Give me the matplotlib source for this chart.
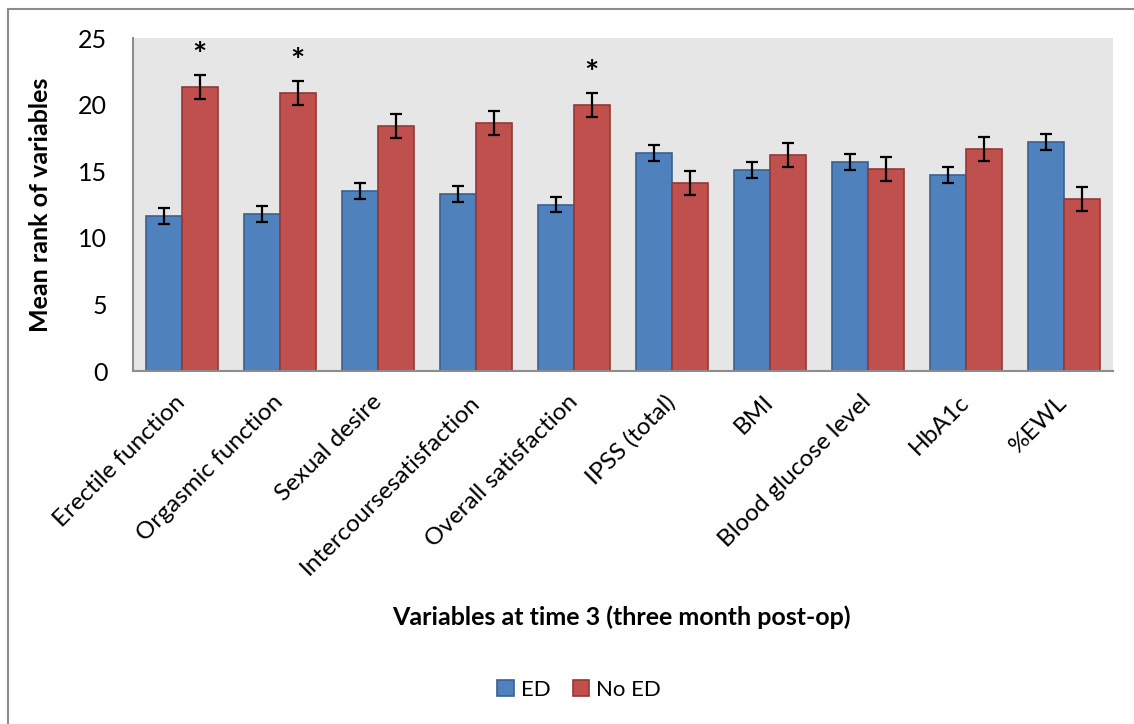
import matplotlib
matplotlib.use("Agg")
import matplotlib.pyplot as plt
import numpy as np
from matplotlib.patches import Rectangle

plt.rcParams['font.family'] = ['Lato', 'DejaVu Sans']

categories = ["Erectile function", "Orgasmic function", "Sexual desire",
              "Intercoursesatisfaction", "Overall satisfaction", "IPSS (total)",
              "BMI", "Blood glucose level", "HbA1c", "%EWL"]
ed_values = [11.6, 11.8, 13.5, 13.3, 12.5, 16.4, 15.1, 15.7, 14.7, 17.2]
no_ed_values = [21.3, 20.9, 18.4, 18.6, 20.0, 14.1, 16.2, 15.2, 16.7, 12.9]
ed_err = [0.6, 0.6, 0.6, 0.6, 0.6, 0.6, 0.6, 0.6, 0.6, 0.6]
no_ed_err = [0.9, 0.9, 0.9, 0.9, 0.9, 0.9, 0.9, 0.9, 0.9, 0.9]
significant = [True, True, False, False, True, False, False, False, False, False]
y_ticks = [0, 5, 10, 15, 20, 25]

W, H = 1134, 724
fig = plt.figure(figsize=(W / 100, H / 100), dpi=100)
fig.patch.set_facecolor('white')

# outer chart frame
fig.patches.append(Rectangle((7.5 / W, -0.1), 2.0, (H - 8.5) / H + 0.1,
                             transform=fig.transFigure, fill=False,
                             edgecolor='#8C8C8C', linewidth=1.5))

left, right, top, bottom = 133, 1113, 38, 371
ax = fig.add_axes([left / W, 1 - bottom / H, (right - left) / W, (bottom - top) / H])
ax.set_facecolor('#E6E6E6')

x = np.arange(len(categories))
bw = 0.365
err_kw = dict(ecolor='black', elinewidth=1.6, capsize=4.2, capthick=1.6)
ax.bar(x - bw / 2, ed_values, bw, yerr=ed_err, color='#4F81BD',
       edgecolor='#3A6190', linewidth=1.2, label='ED', error_kw=err_kw, zorder=2)
ax.bar(x + bw / 2, no_ed_values, bw, yerr=no_ed_err, color='#C0504D',
       edgecolor='#943835', linewidth=1.2, label='No ED', error_kw=err_kw, zorder=2)

# significance markers above the No ED bars
for i, sig in enumerate(significant):
    if sig:
        ax.text(x[i] + bw / 2, no_ed_values[i] + no_ed_err[i] + 0.3, '*',
                ha='center', va='bottom', fontsize=24, fontweight='bold')

ax.set_xlim(-0.5, len(categories) - 0.5)
ax.set_ylim(0, 25)
ax.set_yticks(y_ticks)
ax.tick_params(axis='y', length=0, labelsize=18, pad=18.5)
ax.tick_params(axis='x', length=0, pad=20)
ax.set_xticks(x)
ax.set_xticklabels(categories, rotation=45, ha='right', va='center',
                   rotation_mode='anchor', fontsize=17.5)

for s in ['top', 'right']:
    ax.spines[s].set_visible(False)
for s in ['left', 'bottom']:
    ax.spines[s].set_color('#8C8C8C')
    ax.spines[s].set_linewidth(1.5)

fig.text(41 / W, 1 - 205 / H, 'Mean rank of variables', rotation=90,
         ha='center', va='center', fontsize=18, fontweight='bold')
fig.text(621 / W, 1 - 617 / H, 'Variables at time 3 (three month post-op)',
         ha='center', va='center', fontsize=18, fontweight='bold')

leg = fig.legend(loc='center', bbox_to_anchor=(579 / W, 1 - 690 / H), ncol=2,
                 frameon=False, fontsize=16, handlelength=0.75, handleheight=0.75,
                 handletextpad=0.3, columnspacing=1.0)

fig.savefig('out.png', dpi=100)
